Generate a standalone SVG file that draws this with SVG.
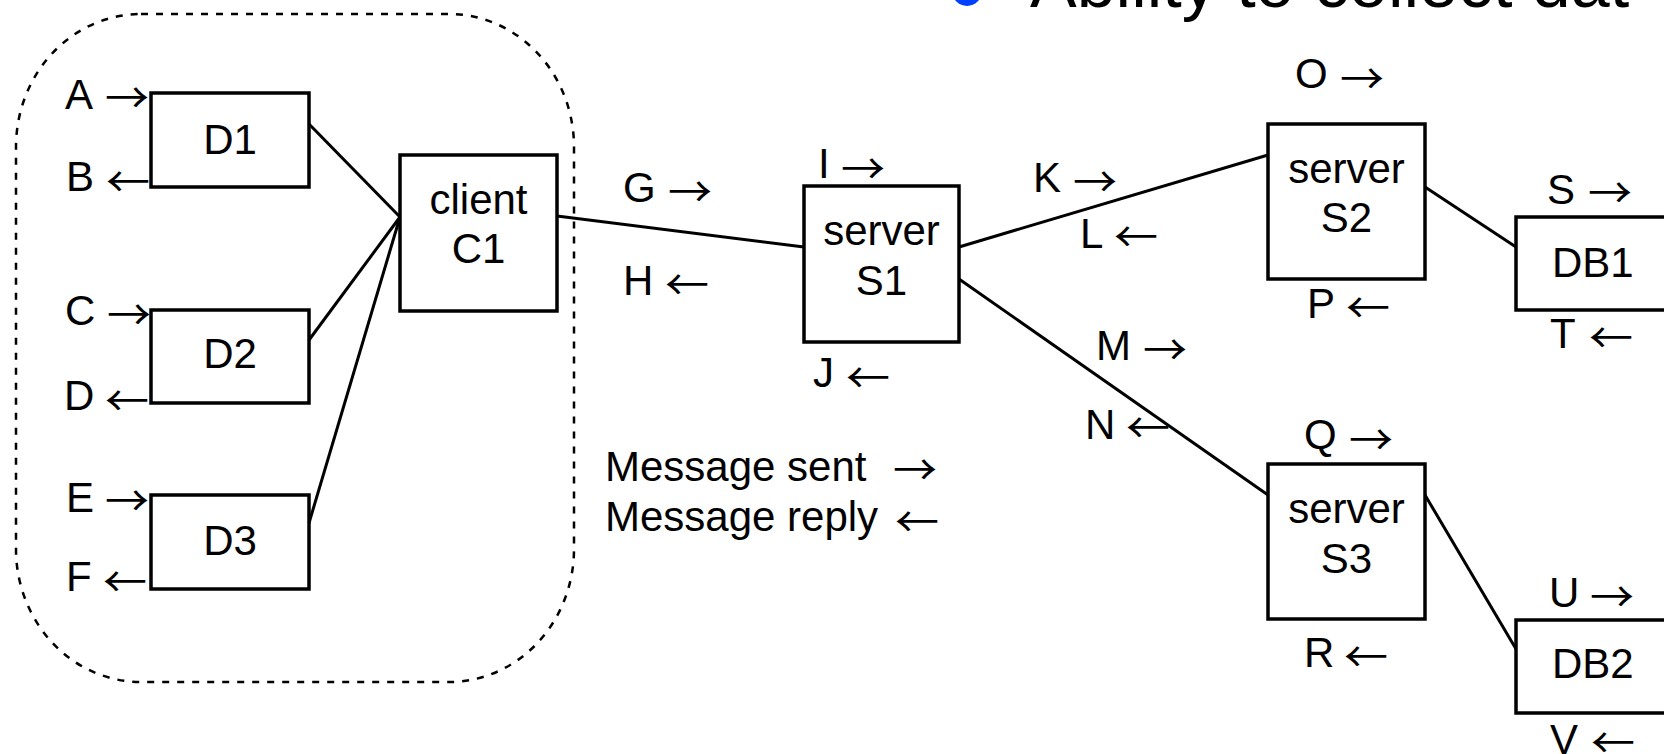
<svg xmlns="http://www.w3.org/2000/svg" width="1664" height="754" viewBox="0 0 1664 754">
<style>
.box{fill:#fff;stroke:#000;stroke-width:3.5}
.t{font-family:"Liberation Sans",Arial,sans-serif;font-size:42px;fill:#000}
.c{text-anchor:middle}
.ar{font-family:"Noto Sans CJK JP","DejaVu Sans",sans-serif;font-size:42px;fill:#000}
.ln{stroke:#000;stroke-width:3;fill:none}
.grp{fill:none;stroke:#000;stroke-width:2.5;stroke-dasharray:7 8}
</style>
<rect width="1664" height="754" fill="#fff"/>
<g id="title">
<circle cx="967" cy="-9" r="15" fill="#0040ff"/>
<text x="1030" y="7" font-family="Liberation Sans,Arial,sans-serif" font-size="70" fill="#000">Ability to collect dat</text>
</g>
<g id="client-group"><rect class="grp" x="16" y="14" width="558" height="668" rx="125" ry="133"/></g>
<g id="connectors">
<line class="ln" x1="309" y1="124" x2="400" y2="217"/>
<line class="ln" x1="309" y1="340" x2="400" y2="217"/>
<line class="ln" x1="309" y1="523" x2="400" y2="217"/>
<line class="ln" x1="557" y1="216" x2="804" y2="247"/>
<line class="ln" x1="959" y1="247" x2="1268" y2="155"/>
<line class="ln" x1="959" y1="279" x2="1268" y2="495"/>
<line class="ln" x1="1425" y1="187" x2="1516" y2="247"/>
<line class="ln" x1="1425" y1="495" x2="1516" y2="649"/>
</g>
<g id="D1"><rect class="box" x="151" y="93" width="158" height="94"/><text class="t c" x="230" y="154">D1</text></g>
<g id="D2"><rect class="box" x="151" y="310" width="158" height="93"/><text class="t c" x="230" y="368">D2</text></g>
<g id="D3"><rect class="box" x="151" y="495" width="158" height="94"/><text class="t c" x="230" y="555">D3</text></g>
<g id="C1"><rect class="box" x="400" y="155" width="157" height="156"/><text class="t c" x="478.5" y="214">client</text><text class="t c" x="478.5" y="263">C1</text></g>
<g id="S1"><rect class="box" x="804" y="186" width="155" height="156"/><text class="t c" x="881.5" y="245">server</text><text class="t c" x="881.5" y="295">S1</text></g>
<g id="S2"><rect class="box" x="1268" y="124" width="157" height="155"/><text class="t c" x="1346.5" y="183">server</text><text class="t c" x="1346.5" y="232">S2</text></g>
<g id="S3"><rect class="box" x="1268" y="464" width="157" height="155"/><text class="t c" x="1346.5" y="523">server</text><text class="t c" x="1346.5" y="573">S3</text></g>
<g id="DB1"><rect class="box" x="1516" y="217" width="220" height="93"/><text class="t" x="1552" y="277">DB1</text></g>
<g id="DB2"><rect class="box" x="1516" y="620" width="220" height="93"/><text class="t" x="1552" y="678">DB2</text></g>
<g id="labels">
<text class="t" x="65" y="109">A</text><text class="ar" x="105" y="113" textLength="44" lengthAdjust="spacingAndGlyphs">→</text>
<text class="t" x="66" y="191">B</text><text class="ar" x="106" y="197" textLength="44" lengthAdjust="spacingAndGlyphs">←</text>
<text class="t" x="65" y="325">C</text><text class="ar" x="107" y="330" textLength="44" lengthAdjust="spacingAndGlyphs">→</text>
<text class="t" x="64" y="410">D</text><text class="ar" x="105" y="416" textLength="44" lengthAdjust="spacingAndGlyphs">←</text>
<text class="t" x="66" y="512">E</text><text class="ar" x="105" y="516" textLength="44" lengthAdjust="spacingAndGlyphs">→</text>
<text class="t" x="66" y="591">F</text><text class="ar" x="103" y="597" textLength="44" lengthAdjust="spacingAndGlyphs">←</text>
<text class="t" x="623" y="202">G</text><text class="ar" x="668" y="207" textLength="44" lengthAdjust="spacingAndGlyphs">→</text>
<text class="t" x="623" y="295">H</text><text class="ar" x="665" y="300" textLength="44" lengthAdjust="spacingAndGlyphs">←</text>
<text class="t" x="818" y="178">I</text><text class="ar" x="841" y="184" textLength="44" lengthAdjust="spacingAndGlyphs">→</text>
<text class="t" x="813" y="387">J</text><text class="ar" x="846" y="393" textLength="44" lengthAdjust="spacingAndGlyphs">←</text>
<text class="t" x="1033" y="192">K</text><text class="ar" x="1073" y="197" textLength="44" lengthAdjust="spacingAndGlyphs">→</text>
<text class="t" x="1080" y="248">L</text><text class="ar" x="1114" y="252" textLength="44" lengthAdjust="spacingAndGlyphs">←</text>
<text class="t" x="1096" y="360">M</text><text class="ar" x="1143" y="365" textLength="44" lengthAdjust="spacingAndGlyphs">→</text>
<text class="t" x="1085" y="439">N</text><text class="ar" x="1126" y="443" textLength="44" lengthAdjust="spacingAndGlyphs">←</text>
<text class="t" x="1295" y="88">O</text><text class="ar" x="1340" y="94" textLength="44" lengthAdjust="spacingAndGlyphs">→</text>
<text class="t" x="1307" y="318">P</text><text class="ar" x="1346" y="323" textLength="44" lengthAdjust="spacingAndGlyphs">←</text>
<text class="t" x="1304" y="449">Q</text><text class="ar" x="1349" y="455" textLength="44" lengthAdjust="spacingAndGlyphs">→</text>
<text class="t" x="1304" y="667">R</text><text class="ar" x="1344" y="672" textLength="44" lengthAdjust="spacingAndGlyphs">←</text>
<text class="t" x="1547" y="204">S</text><text class="ar" x="1588" y="208" textLength="44" lengthAdjust="spacingAndGlyphs">→</text>
<text class="t" x="1550" y="348">T</text><text class="ar" x="1589" y="353" textLength="44" lengthAdjust="spacingAndGlyphs">←</text>
<text class="t" x="1549" y="607">U</text><text class="ar" x="1590" y="612" textLength="44" lengthAdjust="spacingAndGlyphs">→</text>
<text class="t" x="1550" y="754">V</text><text class="ar" x="1591" y="758" textLength="44" lengthAdjust="spacingAndGlyphs">←</text>
</g>
<g id="legend">
<text class="t" x="605" y="481">Message sent</text><text class="ar" x="893" y="485" textLength="44" lengthAdjust="spacingAndGlyphs">→</text>
<text class="t" x="605" y="531">Message reply</text><text class="ar" x="895" y="537" textLength="44" lengthAdjust="spacingAndGlyphs">←</text>
</g>
</svg>
